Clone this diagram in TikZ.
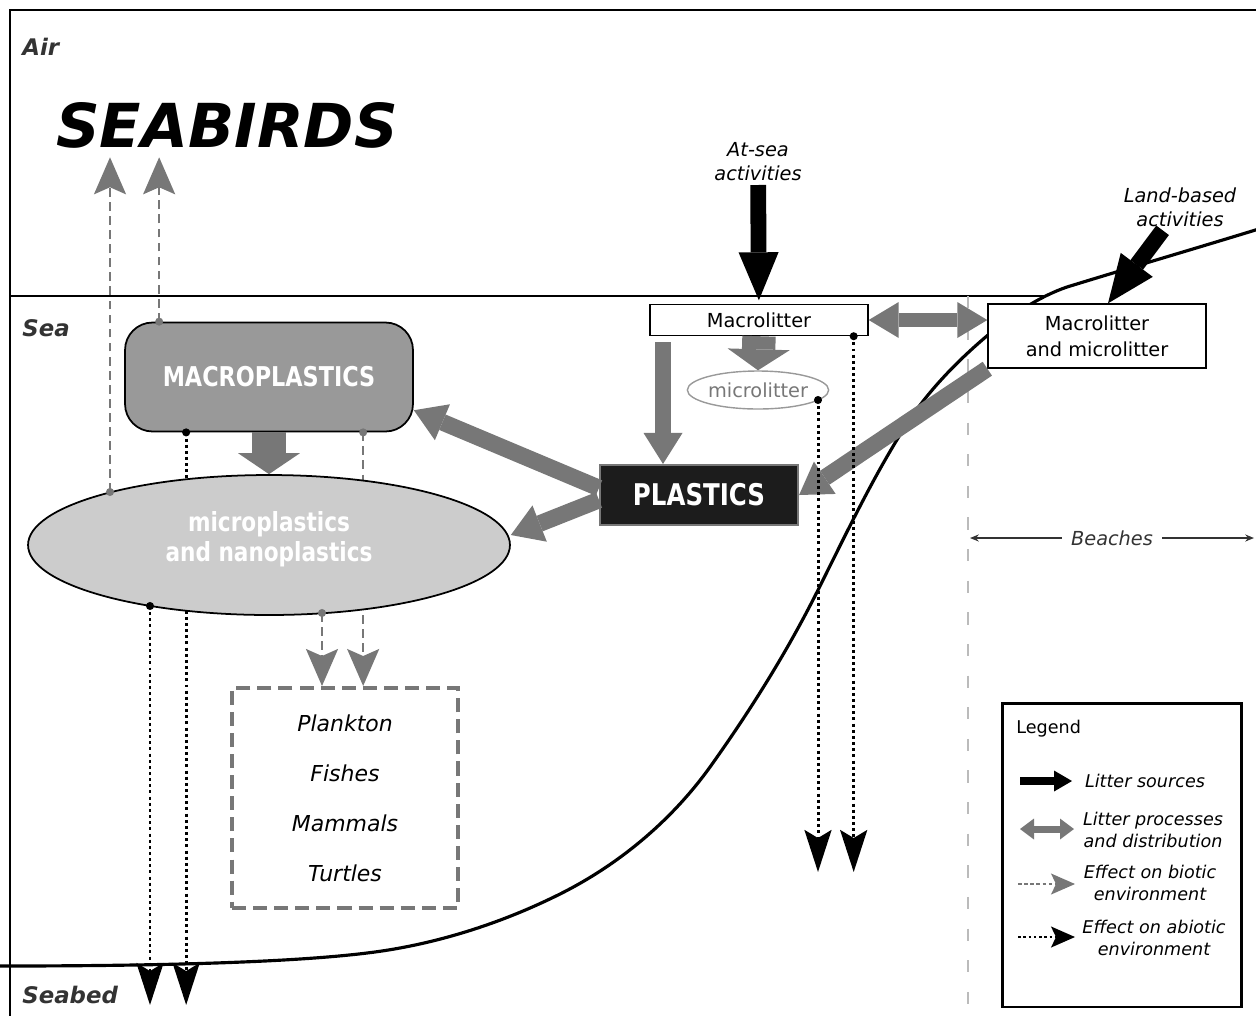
\documentclass[tikz,border=0pt]{standalone}
\usepackage{fontspec}
\setmainfont{DejaVu Sans}
\newfontfamily\condfont[FakeStretch=0.82]{DejaVu Sans}
\usetikzlibrary{positioning, arrows.meta, calc, shapes.geometric, backgrounds}
\definecolor{flowGrey}{HTML}{777777}
\definecolor{macroGrey}{HTML}{999999}
\definecolor{microGrey}{HTML}{CCCCCC}
\definecolor{plastBlack}{HTML}{1C1C1C}
\definecolor{lblGrey}{HTML}{333333}
\definecolor{beachGrey}{HTML}{BBBBBB}
\tikzset{
  every node/.style={font=\fontsize{11}{13}\selectfont},
  zone/.style={anchor=west, inner sep=0pt, text=lblGrey, font=\fontsize{13}{15}\selectfont\bfseries\itshape},
  capt/.style={align=center, inner sep=2pt, font=\fontsize{11}{13.6}\selectfont\itshape},
  litter/.style={draw, line width=0.8pt, fill=white, inner sep=0pt, align=center, minimum width=4.36cm},
  macroBox/.style={draw, line width=1pt, fill=macroGrey, rounded corners=0.55cm, minimum width=5.76cm,
                   minimum height=2.18cm, text=white, font=\fontsize{15.5}{17}\selectfont\condfont\bfseries},
  microBlob/.style={draw, ellipse, line width=1pt, fill=microGrey, inner sep=0pt, minimum width=9.64cm,
                    minimum height=2.8cm, align=center, text=white, text depth=0.34cm,
                    font=\fontsize{15}{17.6}\selectfont\condfont\bfseries},
  plastBox/.style={draw=flowGrey, line width=1.2pt, fill=plastBlack, minimum width=3.96cm, minimum height=1.2cm,
                   text=white, font=\fontsize{17}{19}\selectfont\condfont\bfseries},
  biotaBox/.style={draw=flowGrey, line width=2.3pt, dash pattern=on 8pt off 4pt, minimum width=4.52cm,
                   minimum height=4.4cm, align=center, font=\fontsize{12.5}{28.4}\selectfont\itshape},
  legTxt/.style={align=center, inner sep=0pt, font=\fontsize{10}{12.5}\selectfont\itshape},
  srcArr/.style={line width=9pt, -{Triangle[length=0.96cm, width=0.8cm, line width=0pt]}},
  fatArr/.style={line width=9.5pt, flowGrey, -{Triangle[length=0.62cm, width=0.78cm, line width=0pt]}},
  twinArr/.style={line width=8pt, flowGrey,
                  {Triangle[length=0.6cm, width=0.72cm, line width=0pt]}-{Triangle[length=0.6cm, width=0.72cm, line width=0pt]}},
  dropArr/.style={line width=19pt, flowGrey, -{Triangle[length=0.42cm, width=1.24cm, line width=0pt]}},
  bioArr/.style={line width=1.1pt, flowGrey, dash pattern=on 5pt off 3pt, -{Stealth[length=0.74cm, width=0.64cm, inset=0.14cm]}},
  abioArr/.style={line width=1.7pt, dash pattern=on 1.7pt off 1.8pt, -{Stealth[length=0.84cm, width=0.54cm, inset=0.16cm]}},
  keySrc/.style={line width=4.5pt, -{Triangle[length=0.36cm, width=0.42cm, line width=0pt]}},
  keyTwin/.style={line width=4pt, flowGrey,
                  {Triangle[length=0.28cm, width=0.42cm, line width=0pt]}-{Triangle[length=0.28cm, width=0.42cm, line width=0pt]}},
  keyBio/.style={line width=0.7pt, flowGrey, dash pattern=on 2pt off 1.5pt, -{Stealth[length=0.48cm, width=0.42cm, inset=0.1cm]}},
  keyAbio/.style={line width=1pt, dash pattern=on 1.5pt off 1.5pt, -{Stealth[length=0.48cm, width=0.42cm, inset=0.1cm]}},
  beachArr/.style={line width=0.8pt, lblGrey, {Stealth[length=5pt, width=4pt]}-{Stealth[length=5pt, width=4pt]}},
}

\begin{document}
\begin{tikzpicture}[x=0.02cm, y=-0.02cm]
  \useasboundingbox (0,0) rectangle (1256,1015);
  % zones
  \node[zone] (air) at (22,47) {Air};
  \node[zone] (sea) at (22,328) {Sea};
  \node[zone] (seabed) at (22,995) {Seabed};
  \node[anchor=west, inner sep=0pt, font=\fontsize{34.5}{38}\selectfont\bfseries\itshape] (seabirds) at (56,125) {SEABIRDS};
  % sources
  \node[capt] (atsea) at (758,162) {At-sea\\activities};
  \node[capt] (landbased) at (1180,207) {Land-based\\activities};
  % litter and plastics
  \node[litter, minimum height=0.62cm] (macrolit) at (759,320) {Macrolitter};
  \node[litter, minimum height=1.28cm, font=\fontsize{11}{14.8}\selectfont] (macromicro) at (1097,336) {Macrolitter\\and microlitter};
  \node[draw=macroGrey, ellipse, line width=0.8pt, inner sep=0pt, minimum width=2.8cm, minimum height=0.76cm,
        text=flowGrey] (microlit) at (758,390) {microlitter};
  \node[macroBox] (macroplast) at (269,377) {MACROPLASTICS};
  \node[microBlob] (micronano) at (269,545) {microplastics\\and nanoplastics};
  \node[plastBox] (plastics) at (699,495) {PLASTICS};
  \node[biotaBox] (biota) at (345,798) {Plankton\\Fishes\\Mammals\\Turtles};
  % legend
  \node[draw, line width=1.7pt, minimum width=4.78cm, minimum height=6.08cm] (legend) at (1122,855) {};
  \node[anchor=west, inner sep=0pt, font=\fontsize{10}{12}\selectfont] (legtitle) at (1016,729) {Legend};
  \node[legTxt] (lsrc) at (1145,781) {Litter sources};
  \node[legTxt] (lproc) at (1153,830) {Litter processes\\and distribution};
  \node[legTxt] (lbio) at (1150,883) {Effect on biotic\\environment};
  \node[legTxt] (labio) at (1154,938) {Effect on abiotic\\environment};

  \coordinate (dBird) at ($(micronano.center)+(-159,-53)$);
  \coordinate (dMacTop) at ($(macroplast.north west)+(35,0)$);
  \coordinate (dMacBot) at ($(macroplast.south west)+(239,0)$);
  \coordinate (dMicBot) at ($(micronano.center)+(53,68)$);
  \coordinate (dMacBotB) at ($(macroplast.south west)+(62,0)$);
  \coordinate (dMicBotB) at ($(micronano.center)+(-119,61)$);
  \coordinate (dLit) at ($(macrolit.south east)+(-15,0)$);
  \coordinate (dMicLit) at ($(microlit.center)+(60,10)$);
  \coordinate (plastIn) at ($(plastics.north)+(-36,0)$);
  \coordinate (deep) at (0,872);
  \coordinate (floor) at (0,1005);
  \coordinate (beachL) at (970,538);
  \coordinate (beachR) at (1254,538);

  \begin{scope}[on background layer]
    \draw[line width=1.5pt] (10,1030) -- (10,10) -- (1270,10);
    \draw[line width=1.3pt] (10,296) -- (1046,296);
    % coastline
    \draw[line width=1.8pt] (1262,228) .. controls (1197,248) and (1132,267) .. (1067,287)
      .. controls (1038,297) and (1012,315) .. (988,335)
      .. controls (956,362) and (925,394) .. (903,430)
      .. controls (871,481) and (845,536) .. (818,590)
      .. controls (787,652) and (750,711) .. (710,767)
      .. controls (671.5,820.6) and (619,864.5) .. (560,894)
      .. controls (500,924) and (433.5,945) .. (367,953)
      .. controls (278,964) and (120,966) .. (0,966);
    \draw[beachGrey, line width=1pt, dash pattern=on 7pt off 11pt] (968,296) -- (968,1015);
    \draw[bioArr] (dMacBot) -- (dMacBot |- biota.north);
    \draw[abioArr] (dMacBotB) -- (dMacBotB |- floor);
  \end{scope}

  \draw[beachArr] (beachL) -- node[fill=white, inner xsep=5pt, text=lblGrey, font=\fontsize{11}{13}\selectfont\itshape] (beachlbl) {Beaches} (beachR);

  % litter sources
  \draw[srcArr, shorten >=2pt] (atsea) -- (macrolit);
  \draw[srcArr] (landbased) -- ([xshift=0.22cm]macromicro.north);
  % litter processes
  \draw[twinArr] (macrolit.east) -- (macrolit.east -| macromicro.west);
  \draw[dropArr] (macrolit.south) -- (microlit.north);
  \draw[fatArr, shorten <=0.12cm] (plastIn |- macrolit.south) -- (plastIn);
  \draw[fatArr] (macromicro.south west) -- (plastics.east);
  \draw[fatArr] ([yshift=0.14cm]plastics.west) -- ($(macroplast.east)!0.6!(macroplast.south east)$);
  \draw[fatArr] ([yshift=-0.1cm]plastics.west) -- ([yshift=0.2cm]micronano.east);
  \draw[dropArr] (macroplast.south) -- (micronano.north);
  % effects
  \draw[bioArr, shorten >=0.18cm] (dBird) -- (dBird |- seabirds.south);
  \draw[bioArr, shorten >=0.18cm] (dMacTop) -- (dMacTop |- seabirds.south);
  \draw[bioArr] (dMicBot) -- (dMicBot |- biota.north);
  \draw[abioArr] (dMicBotB) -- (dMicBotB |- floor);
  \draw[abioArr] (dLit) -- (dLit |- deep);
  \draw[abioArr] (dMicLit) -- (dMicLit |- deep);
  \foreach \d in {dBird, dMacTop, dMacBot, dMicBot}
    \fill[flowGrey] (\d) circle (2.3pt);
  \foreach \d in {dMacBotB, dMicBotB, dLit, dMicLit}
    \fill (\d) circle (2.3pt);

  % legend keys
  \coordinate (k1a) at (1020,781); \coordinate (k1b) at (1072,781);
  \coordinate (k2a) at (1020,829); \coordinate (k2b) at (1074,829);
  \coordinate (k3a) at (1018,884); \coordinate (k3b) at (1075,884);
  \coordinate (k4a) at (1018,937); \coordinate (k4b) at (1075,937);
  \draw[keySrc] (k1a) -- (k1b);
  \draw[keyTwin] (k2a) -- (k2b);
  \draw[keyBio] (k3a) -- (k3b);
  \draw[keyAbio] (k4a) -- (k4b);
\end{tikzpicture}
\end{document}
